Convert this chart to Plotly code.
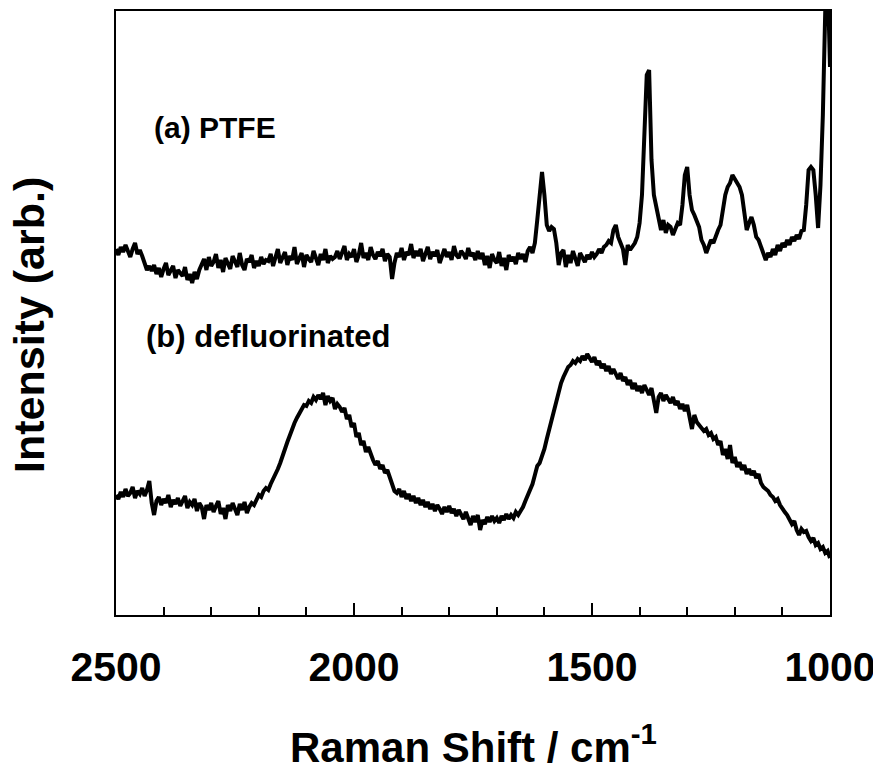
import plotly.graph_objects as go

# Raman shift sampling (cm^-1), 2500 -> 1000
wavenumber = list(range(2500, 995, -5))

# (a) PTFE spectrum (arb. units)
ptfe = [
    # 2500-2445
    366, 360, 368, 363, 370, 364, 358, 366, 372, 361, 365, 359,
    # 2440-2430
    352, 345, 349,
    # 2425-2325
    344, 350, 341, 347, 338, 346, 352, 340, 344, 349, 337, 345, 342, 339, 348, 335, 341, 332, 343, 336, 345,
    # 2320-2185
    350, 356, 345, 358, 349, 353, 361, 347, 355, 343, 357, 351, 346, 359, 352, 348, 362, 350, 345, 356,
    353, 360, 347, 354, 349, 358, 351, 355,
    # 2180-2045
    354, 361, 349, 358, 366, 352, 357, 363, 350, 359, 355, 368, 351, 357, 362, 348, 360, 356, 353, 364,
    358, 350, 361, 355, 366, 352, 359, 356,
    # 2040-1925
    358, 364, 356, 362, 369, 355, 361, 358, 366, 353, 360, 372, 357, 362, 355, 368, 360, 356, 363, 359,
    366, 354, 361, 358,
    # 1920-1915
    336, 352,
    # 1910-1740
    362, 358, 367, 355, 363, 360, 371, 357, 364, 359, 366, 354, 361, 368, 356, 363, 359, 365, 352, 360,
    366, 358, 363, 355, 369, 360, 357, 364, 361, 356, 367, 359, 362, 355, 364,
    # 1735-1620
    356, 362, 350, 359, 347, 361, 355, 352, 363, 349, 357, 345, 360, 354, 358, 351, 362, 356, 361, 353,
    364, 368, 362, 372,
    # 1615-1565
    395, 425, 443, 420, 390, 384, 388, 386, 372, 350, 362,
    # 1560-1460
    365, 348, 360, 352, 364, 355, 349, 362, 357, 353, 360, 356, 363, 358, 361, 366, 362, 368, 370, 374, 372,
    # 1455-1400
    385, 390, 378, 372, 366, 350, 370, 365, 369, 372, 378, 392,
    # 1395-1365
    420, 480, 540, 545, 455, 420, 408,
    # 1360-1315
    398, 385, 395, 382, 390, 388, 380, 386, 392, 390,
    # 1310-1230
    410, 440, 448, 420, 405, 400, 395, 388, 375, 370, 362, 368, 375, 372, 380, 385, 390,
    # 1225-1055
    405, 420, 428, 432, 440, 436, 432, 428, 420, 405, 385, 392, 398, 390, 378, 375, 368, 360, 355, 362,
    358, 366, 360, 370, 364, 372, 368, 375, 370, 378, 374, 380, 376, 384, 385,
    # 1050-1000
    410, 445, 448, 445, 420, 387, 430, 500, 604, 640, 548,
]

# (b) defluorinated spectrum (arb. units)
defluorinated = [
    # 2500-2435
    120, 116, 123, 118, 126, 119, 122, 128, 117, 124, 121, 127, 119, 125,
    # 2430-2420
    134, 112, 100,
    # 2415-2325
    114, 118, 110, 116, 112, 120, 108, 115, 111, 117, 109, 114, 119, 107, 113, 110, 116, 104, 112,
    # 2320-2210
    108, 96, 110, 105, 112, 103, 109, 114, 101, 107, 96, 110, 104, 112, 106, 100, 111, 105, 113, 102,
    108, 112, 110,
    # 2205-2080
    116, 120, 118, 124, 127, 125, 131, 136, 139, 146, 152, 158, 166, 173, 180, 186, 192, 197, 202, 205,
    210, 209, 214, 212, 218, 215,
    # 2075-2000
    220, 216, 222, 210, 219, 214, 217, 206, 211, 208, 203, 207, 196, 200, 188, 192,
    # 1995-1905
    178, 182, 170, 174, 163, 168, 160, 155, 150, 154, 146, 150, 142, 145, 138, 130, 124, 122, 126,
    # 1900-1660
    118, 124, 116, 121, 114, 119, 112, 117, 110, 115, 108, 113, 106, 111, 104, 110, 106, 101, 108, 103,
    109, 102, 106, 99, 105, 100, 96, 103, 97, 90, 99, 93, 100, 85, 95, 91, 98, 93, 99, 94,
    97, 92, 99, 95, 101, 96, 100, 97, 103,
    # 1655-1530
    100, 104, 108, 114, 120, 127, 131, 140, 149, 152, 158, 166, 176, 186, 196, 204, 214, 222, 232, 238,
    244, 248, 250, 254, 252, 256,
    # 1525-1455
    254, 259, 255, 261, 257, 253, 258, 250, 254, 247, 251, 244, 249, 241, 246,
    # 1450-1300
    240, 236, 242, 234, 238, 230, 235, 226, 232, 224, 229, 222, 230, 224, 220, 227, 212, 202, 218, 222,
    214, 220, 216, 212, 218, 210, 214, 206, 211, 204, 210,
    # 1295-1000
    196, 186, 200, 193, 190, 187, 184, 186, 180, 182, 176, 178, 170, 174, 160, 166, 156, 170, 152, 158,
    148, 153, 145, 150, 141, 146, 140, 144, 137, 141, 132, 128, 126, 124, 120, 118, 114, 116, 110, 106,
    103, 100, 96, 91, 94, 85, 80, 86, 83, 84, 78, 74, 77, 70, 72, 66, 68, 62, 64, 57,
]

labels = ["(a) PTFE", "(b) defluorinated"]
label_x = [2424, 2441]
label_y = [488, 279]

FONT = "Liberation Sans, Arial, Helvetica, sans-serif"

fig = go.Figure()
for series, name in [(ptfe, labels[0]), (defluorinated, labels[1])]:
    fig.add_trace(go.Scatter(
        x=wavenumber, y=series, mode="lines", name=name,
        line=dict(color="black", width=4), showlegend=False,
    ))

for txt, lx, ly, fs in zip(labels, label_x, label_y, [30, 31]):
    fig.add_annotation(x=lx, y=ly, xref="x", yref="y", text=txt, showarrow=False,
                       xanchor="left", yanchor="middle",
                       font=dict(family=FONT, size=fs, color="black", weight="bold"))

fig.add_annotation(x=0.5, y=-0.214, xref="paper", yref="paper",
                   text="Raman Shift / cm<sup>-1</sup>", showarrow=False,
                   xanchor="center", yanchor="middle",
                   font=dict(family=FONT, size=42, color="black", weight="bold"))
fig.add_annotation(x=-0.122, y=0.48, xref="paper", yref="paper",
                   text="Intensity (arb.)", showarrow=False, textangle=-90,
                   xanchor="center", yanchor="middle",
                   font=dict(family=FONT, size=43, color="black", weight="bold"))

# page body adds an 8px margin, so the figure is sized/margined to compensate
fig.update_layout(
    width=873, height=757,
    margin=dict(l=108, r=51, t=3, b=150),
    paper_bgcolor="white", plot_bgcolor="white",
    font=dict(family=FONT, color="black"),
)
fig.update_xaxes(
    range=[2500, 1000], tick0=1000, dtick=500,
    ticks="inside", ticklen=12, tickwidth=1.5, tickcolor="black",
    ticklabelstandoff=15,
    showline=True, linecolor="black", linewidth=1.5, mirror=True,
    showgrid=False, zeroline=False, automargin=False,
    tickfont=dict(family=FONT, size=41, color="black", weight="bold"),
    minor=dict(dtick=100, ticks="inside", ticklen=8, tickwidth=1.5, tickcolor="black", showgrid=False),
)
fig.update_yaxes(
    range=[0, 604], showticklabels=False, ticks="",
    showline=True, linecolor="black", linewidth=1.5, mirror=True,
    showgrid=False, zeroline=False, automargin=False,
)

fig.write_html("out.html")
